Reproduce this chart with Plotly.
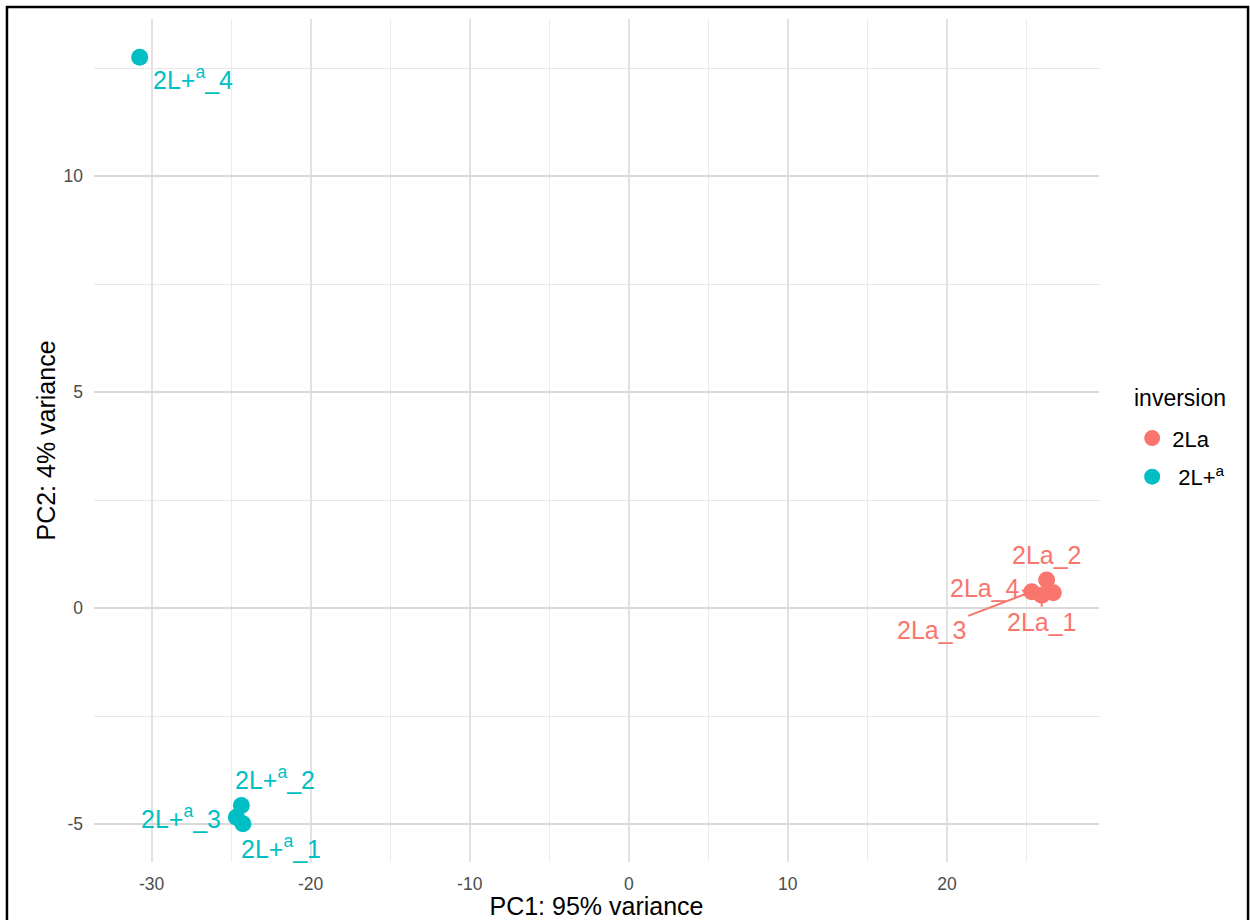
import plotly.graph_objects as go

# ---- data ----
samples = ["2La_1", "2La_2", "2La_3", "2La_4",
           "2L+a_1", "2L+a_2", "2L+a_3", "2L+a_4"]
groups = ["2La", "2La", "2La", "2La", "2L+a", "2L+a", "2L+a", "2L+a"]
pc1 = [25.96, 26.27, 25.33, 26.69, -24.26, -24.36, -24.67, -30.75]
pc2 = [0.30, 0.65, 0.38, 0.355, -4.99, -4.57, -4.84, 12.75]
x_ticks = [-30, -20, -10, 0, 10, 20]
x_ticktext = ["-30", "-20", "-10", "0", "10", "20"]
y_ticks = [-5, 0, 5, 10]
y_ticktext = ["-5", "0", "5", "10"]
var_pc1 = 95
var_pc2 = 4
legend_title = "inversion"

group_order = ["2La", "2L+a"]
group_labels = {"2La": "2La", "2L+a": " 2L+<sup>a</sup>"}
colors = {"2La": "#F8766D", "2L+a": "#00BFC4"}

# label offsets (pixels, text centre relative to point), like ggrepel placement
label_offsets = {
    "2La_1": (0, 27, True),
    "2La_2": (0, -25, False),
    "2La_3": (-100, 38, True),
    "2La_4": (-68, -5, True),
    "2L+a_1": (38, 23, False),
    "2L+a_2": (34, -28, False),
    "2L+a_3": (-55, 0, False),
    "2L+a_4": (53, 21, False),
}

FONT = "Liberation Sans, Arial, sans-serif"

fig = go.Figure()
for g in group_order:
    xs = [x for x, gg in zip(pc1, groups) if gg == g]
    ys = [y for y, gg in zip(pc2, groups) if gg == g]
    fig.add_trace(go.Scatter(
        x=xs, y=ys, mode="markers", name=group_labels[g], legendgroup=g,
        marker=dict(size=17, color=colors[g], line=dict(width=0)),
    ))

def fmt(name):
    if name.startswith("2L+a"):
        return "2L+<sup>a</sup>" + name[4:]
    return name

annotations = []
for s, g, x, y in zip(samples, groups, pc1, pc2):
    dx, dy, seg = label_offsets[s]
    annotations.append(dict(
        x=x, y=y, xref="x", yref="y", text=fmt(s),
        showarrow=True, ax=dx, ay=dy, arrowhead=0, arrowwidth=2,
        arrowcolor=colors[g] if seg else "rgba(0,0,0,0)",
        standoff=8, startstandoff=0,
        font=dict(family=FONT, size=25, color=colors[g]),
    ))

# legend title (placed like ggplot's legend title)
annotations.append(dict(
    x=1.0806, y=0.5504, xref="paper", yref="paper", text=legend_title,
    showarrow=False, xanchor="center", yanchor="middle",
    font=dict(family=FONT, size=23, color="black"),
))

# ggplot-like 5% expansion
xr = max(pc1) - min(pc1)
yr = max(pc2) - min(pc2)
x_range = [min(pc1) - 0.05 * xr, max(pc1) + 0.05 * xr]
y_range = [min(pc2) - 0.05 * yr, max(pc2) + 0.05 * yr]

fig.update_layout(
    width=1250, height=920,
    margin=dict(l=94, r=151, t=19, b=58, autoexpand=False),
    paper_bgcolor="white", plot_bgcolor="white",
    font=dict(family=FONT, color="black"),
    annotations=annotations,
    legend=dict(
        font=dict(size=22, color="black"),
        x=1.033, y=0.5275, xanchor="left", yanchor="top",
        itemsizing="trace", traceorder="grouped", tracegroupgap=7,
    ),
    shapes=[dict(type="rect", xref="paper", yref="paper",
                 x0=-0.0866, x1=1.1483, y0=-0.2, y1=1.0142,
                 line=dict(color="black", width=2.5), layer="above")],
)

fig.update_xaxes(
    range=x_range, tickvals=x_ticks, ticktext=x_ticktext,
    showgrid=True, gridcolor="#E2E2E2", gridwidth=1.6,
    minor=dict(dtick=5, showgrid=True, gridcolor="#ECECEC", gridwidth=1),
    zeroline=False, showline=False, ticks="", automargin=False,
    tickfont=dict(size=17.5, color="#4D4D4D"),
    ticklabelstandoff=9,
    title=dict(text=f"PC1: {var_pc1}% variance", font=dict(size=25, color="black"), standoff=13),
)
fig.update_yaxes(
    range=y_range, tickvals=y_ticks, ticktext=y_ticktext,
    showgrid=True, gridcolor="#D9D9D9", gridwidth=1.6,
    minor=dict(dtick=2.5, showgrid=True, gridcolor="#E8E8E8", gridwidth=1),
    zeroline=False, showline=False, ticks="", automargin=False,
    tickfont=dict(size=17.5, color="#4D4D4D"),
    ticklabelstandoff=10,
    title=dict(text=f"PC2: {var_pc2}% variance", font=dict(size=25, color="black"), standoff=0),
)

fig.write_html("out.html", config={"displayModeBar": False},
               post_script="document.body.style.margin='0px';")
